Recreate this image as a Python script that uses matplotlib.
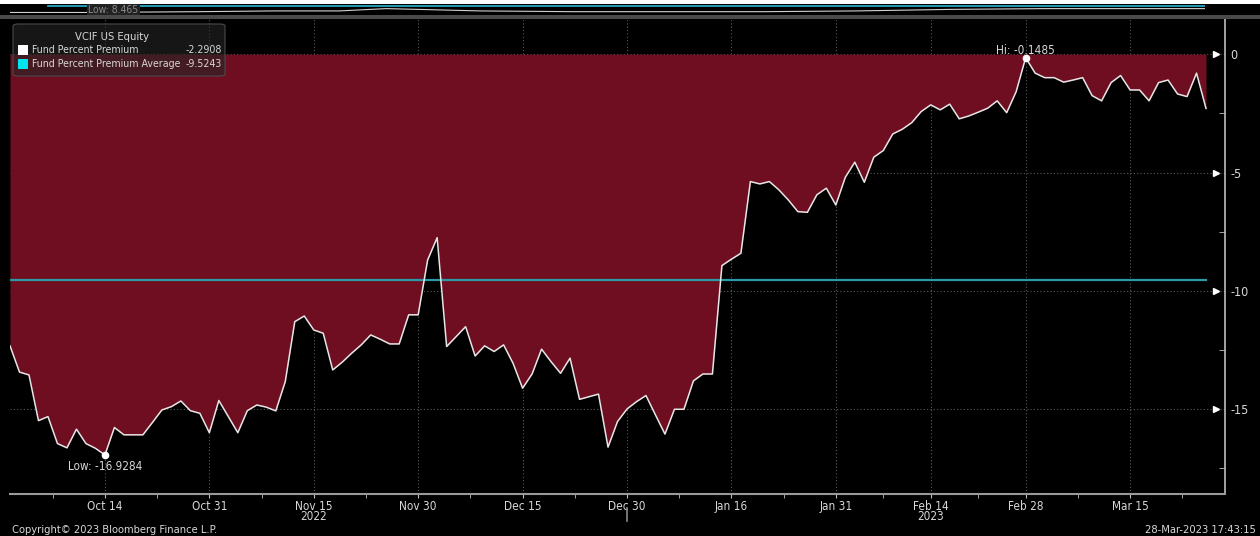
import numpy as np
import pandas as pd
import matplotlib
matplotlib.use("Agg")
import matplotlib.pyplot as plt
import matplotlib.transforms as mtransforms
from matplotlib.patches import Rectangle, FancyBboxPatch

plt.rcParams['font.family'] = ['DejaVu Sans']
plt.rcParams['font.stretch'] = 'condensed'

# weekday series, 30-Sep-2022 .. 27-Mar-2023
dates = pd.bdate_range("2022-09-30", "2023-03-27")
premium = [
    -12.32, -13.43, -13.55, -15.48, -15.31, -16.45, -16.63, -15.84, -16.45, -16.65,
    -16.93, -15.77, -16.08, -16.08, -16.08, -15.56, -15.03, -14.89, -14.65, -15.06,
    -15.17, -15.99, -14.63, -15.31, -15.99, -15.06, -14.82, -14.91, -15.07, -13.83,
    -11.30, -11.06, -11.65, -11.79, -13.34, -13.01, -12.63, -12.28, -11.86, -12.04,
    -12.24, -12.24, -11.01, -11.01, -8.69, -7.75, -12.35, -11.93, -11.51, -12.75,
    -12.32, -12.56, -12.28, -13.06, -14.11, -13.51, -12.46, -12.99, -13.48, -12.84,
    -14.58, -14.47, -14.36, -16.60, -15.52, -14.99, -14.68, -14.42, -15.24, -16.05,
    -15.00, -15.00, -13.80, -13.51, -13.51, -8.93, -8.66, -8.41, -5.38, -5.48,
    -5.38, -5.73, -6.16, -6.65, -6.68, -5.94, -5.66, -6.37, -5.20, -4.56,
    -5.41, -4.35, -4.07, -3.37, -3.17, -2.89, -2.42, -2.14, -2.35, -2.11,
    -2.73, -2.61, -2.45, -2.28, -1.97, -2.47, -1.58, -0.1485, -0.80, -0.99,
    -0.99, -1.18, -1.09, -0.99, -1.75, -1.97, -1.20, -0.90, -1.51, -1.51,
    -1.97, -1.20, -1.09, -1.68, -1.79, -0.80, -2.2908,
]
premium_avg = -9.5243
low_val, high_val = -16.9284, -0.1485

tick_dates = ["2022-10-14", "2022-10-31", "2022-11-15", "2022-11-30", "2022-12-15",
              "2022-12-30", "2023-01-16", "2023-01-31", "2023-02-14", "2023-02-28",
              "2023-03-15"]
tick_labels = ["Oct 14", "Oct 31", "Nov 15", "Nov 30", "Dec 15", "Dec 30",
               "Jan 16", "Jan 31", "Feb 14", "Feb 28", "Mar 15"]
year_labels = {"2022": "2022-11-15", "2023": "2023-02-14"}
y_ticks = [0, -5, -10, -15]

# small navigator strip on top (rough shape)
nav_x = [0, 8, 20, 28, 35, 40, 50, 60, 70, 80, 90, 100, 110, 120, 127]
nav_y = [13, 13, 12, 11, 11, 8, 11, 12, 12, 12, 11, 9, 8, 8, 8]

FILL = "#6f0e20"
TXT = "#d8d8d8"
GRID = "#5a5a5a"
FS = 8.5
LFS = 7.6

x = np.arange(len(dates))
vals = np.array(premium)
pos = {d.strftime("%Y-%m-%d"): i for i, d in enumerate(dates)}
major = [pos[d] for d in tick_dates]
minor = [major[0] - 5.5] + [(a + b) / 2 for a, b in zip(major[:-1], major[1:])] + [major[-1] + 5.5]

fig = plt.figure(figsize=(12.6, 5.36), dpi=100, facecolor="black")
W, H = 1260.0, 536.0
ax = fig.add_axes([10 / W, 1 - 494 / H, 1215 / W, 476 / H])
ax.set_facecolor("black")

ax.fill_between(x, 0, vals, color=FILL, linewidth=0, zorder=1)
ax.plot(x, vals, color="#e6e6e6", lw=1.1, zorder=3)
ax.plot([x[0], x[-1]], [premium_avg, premium_avg], color="#2a9aa8", lw=1.6, zorder=2)

ax.set_xlim(0, 128)
ax.set_ylim(-18.58, 1.53)

for i in major:
    ax.axvline(i, color=GRID, lw=0.8, ls=(0, (1, 2)), zorder=0.5)
for v in y_ticks:
    ax.axhline(v, color=GRID, lw=0.8, ls=(0, (1, 2)), zorder=0.5)

# low / high markers
il = int(np.argmin(vals)); ih = int(np.argmax(vals))
ax.plot([il], [low_val], "o", color="white", ms=4.5, zorder=5)
ax.plot([ih], [high_val], "o", color="white", ms=4.5, zorder=5)
ax.text(il, low_val - 0.2, "Low: %.4f" % low_val, color=TXT, fontsize=FS,
        ha="center", va="top", zorder=6)
ax.text(ih, high_val + 0.05, "Hi: %.4f" % high_val, color=TXT, fontsize=FS,
        ha="center", va="bottom", zorder=6)

# spines / axes
for s in ["top", "left"]:
    ax.spines[s].set_visible(False)
ax.spines["right"].set_color("#bdbdbd")
ax.spines["bottom"].set_color("#9a9a9a")
ax.spines["right"].set_linewidth(1.2)
ax.spines["bottom"].set_linewidth(1.5)
ax.yaxis.tick_right()
ax.set_yticks(y_ticks)
ax.set_yticklabels([str(v) if v == 0 else "-%d" % abs(v) for v in y_ticks])
ax.set_yticks([-2.5, -7.5, -12.5, -17.5], minor=True)
ax.tick_params(axis="y", which="major", colors=TXT, labelsize=9, length=0, pad=4)
ax.tick_params(axis="y", which="minor", colors="#bdbdbd", length=4, direction="in")
tr = mtransforms.blended_transform_factory(ax.transAxes, ax.transData)
ax.plot([0.993] * len(y_ticks), y_ticks, marker=">", ls="none", color="white",
        ms=4.5, transform=tr, clip_on=False, zorder=6)

ax.set_xticks(major)
ax.set_xticklabels(tick_labels)
ax.set_xticks(minor, minor=True)
ax.tick_params(axis="x", which="major", colors="#bdbdbd", labelcolor=TXT,
               labelsize=FS, length=3, pad=1)
ax.tick_params(axis="x", which="minor", colors="#bdbdbd", length=3)

trx = mtransforms.blended_transform_factory(ax.transData, fig.transFigure)
for lab, d in year_labels.items():
    fig.text(pos[d], 1 - 517 / H, lab, transform=trx, color=TXT, fontsize=FS,
             ha="center", va="center")
fig.add_artist(plt.Line2D([pos["2022-12-30"]] * 2, [1 - 508 / H, 1 - 521 / H],
                          transform=trx, color="#8a8a8a", lw=1.2))

# legend box
fig.patches.append(FancyBboxPatch((13 / W, 1 - 76 / H), 212 / W, 52 / H,
                                  boxstyle="round,pad=0,rounding_size=0.004",
                                  transform=fig.transFigure, facecolor=(0.15, 0.15, 0.15, 0.6),
                                  edgecolor="#4a4a4a", lw=0.8, zorder=10))
fig.text(112 / W, 1 - 37 / H, "VCIF US Equity", color=TXT, fontsize=LFS + 0.4,
         ha="center", va="center", zorder=11)
for k, (lab, val, col) in enumerate([("Fund Percent Premium", premium[-1], "white"),
                                     ("Fund Percent Premium Average", premium_avg, "#00e5ee")]):
    yy = 1 - (50 + 14 * k) / H
    fig.patches.append(Rectangle((18 / W, yy - 5 / H), 10 / W, 10 / H,
                                 transform=fig.transFigure, facecolor=col, zorder=11))
    fig.text(32 / W, yy, lab, color=TXT, fontsize=LFS, ha="left", va="center", zorder=11)
    fig.text(222 / W, yy, "%.4f" % val, color=TXT, fontsize=LFS, ha="right", va="center", zorder=11)

# navigator strip at the top
nav = fig.add_axes([10 / W, 1 - 14 / H, 1195 / W, 10 / H])
nav.set_facecolor("black")
nav.plot(nav_x, nav_y, color="#cfcfcf", lw=0.8)
nav.plot([4, 127], [4, 4], color="#29b6d6", lw=1.2)
nav.set_xlim(0, 127)
nav.set_ylim(15, 2)
nav.axis("off")
nav.text(11, 10, "Low: 8.465", color="#8a8a8a", fontsize=7.5, ha="center", va="center",
         bbox=dict(facecolor="#222222", edgecolor="none", pad=1))
fig.patches.append(Rectangle((0, 1 - 19 / H), 1, 4 / H, transform=fig.transFigure,
                             facecolor="#4a4a4a", zorder=0))
fig.patches.append(Rectangle((0, 1 - 4 / H), 1, 4 / H, transform=fig.transFigure,
                             facecolor="white", zorder=0))

fig.text(12 / W, 1 - 530 / H, "Copyright\u00a9 2023 Bloomberg Finance L.P.", color=TXT,
         fontsize=8, ha="left", va="center")
fig.text(1256 / W, 1 - 530 / H, "28-Mar-2023 17:43:15", color=TXT, fontsize=8,
         ha="right", va="center")

fig.savefig("out.png", dpi=100, facecolor="black")
